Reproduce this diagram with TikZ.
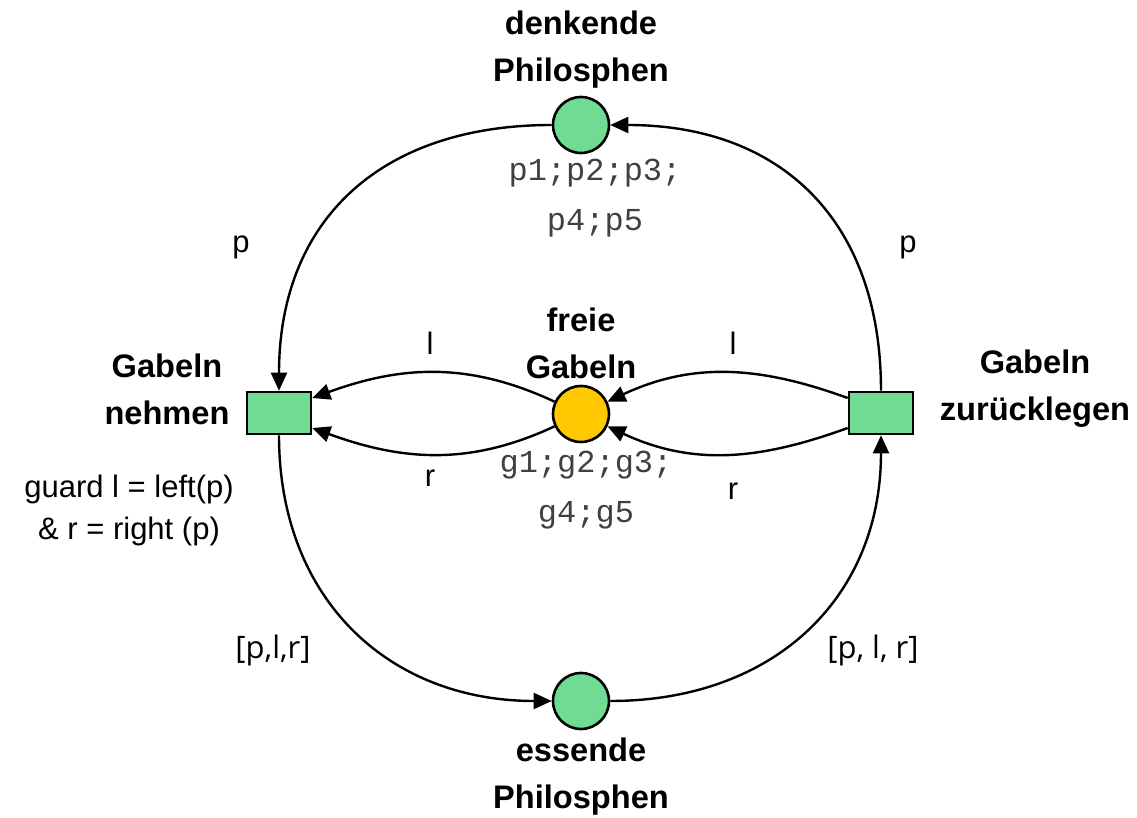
\documentclass[tikz,border=0pt]{standalone}
\usepackage{fontspec}
\setmainfont{Liberation Sans}
\setmonofont{Liberation Mono}
\newfontfamily\arcfont{Open Sans}
\usepackage{tikz}
\usetikzlibrary{arrows.meta, positioning}
\definecolor{placegreen}{HTML}{70DB93}
\definecolor{forkyellow}{HTML}{FFC800}

\begin{document}
\begin{tikzpicture}[x=0.5pt, y=0.5pt,
    place/.style={circle, draw, line width=1.3pt, minimum size=28pt, inner sep=0pt},
    trans/.style={rectangle, draw, line width=1.3pt, fill=placegreen, minimum width=32pt, minimum height=21pt, inner sep=0pt},
    arc/.style={line width=1.2pt, -{Triangle[length=9pt, width=8pt]}},
    title/.style={font=\fontsize{16.3}{23.5}\selectfont\bfseries, align=center},
    tokens/.style={font=\fontsize{16}{25}\selectfont\ttfamily, align=center, text=black!75},
    inscr/.style={font=\fontsize{15.5}{21}\selectfont, align=center},
    varlist/.style={font=\fontsize{15.5}{21}\selectfont\arcfont},
]
    \useasboundingbox (0,0) rectangle (1137,-818);

    % places
    \node[place, fill=placegreen] (dp) at (581,-125) {};
    \node[place, fill=forkyellow] (fg) at (581,-414) {};
    \node[place, fill=placegreen] (ep) at (581,-701) {};

    % transitions
    \node[trans] (gn) at (279,-413) {};
    \node[trans] (gz) at (881,-413) {};

    % names
    \node[title] (dpname) at (581,-50) {denkende\\Philosphen};
    \node[title] (fgname) at (581,-343) {freie\\Gabeln};
    \node[title] (epname) at (581,-777) {essende\\Philosphen};
    \node[title] (gnname) at (167,-389) {Gabeln\\nehmen};
    \node[title] (gzname) at (1035,-389) {Gabeln\\zurücklegen};

    % tokens
    \node[tokens] (dptok) at (595,-198) {p1;p2;p3;\\p4;p5};
    \node[tokens] (fgtok) at (586,-490) {g1;g2;g3;\\g4;g5};

    % guard
    \node[inscr] (guard) at (129,-510) {guard l = left(p)\\\& r = right (p)};

    % arcs
    \draw[arc] (dp.west) to[out=180, in=90, looseness=1.15] (gn.north);
    \draw[arc] (gz.north) to[out=90, in=0, looseness=1.15] (dp.east);
    \draw[arc] (gn.south) to[out=-90, in=180, looseness=1.1] (ep.west);
    \draw[arc] (ep.east) to[out=0, in=-90, looseness=1.1] (gz.south);

    \draw[arc] (fg.155) to[out=155, in=20] ([yshift=7.5pt]gn.east);
    \draw[arc] (fg.205) to[out=205, in=-20] ([yshift=-7.5pt]gn.east);
    \draw[arc] ([yshift=7.5pt]gz.west) to[out=160, in=25] (fg.25);
    \draw[arc] ([yshift=-7.5pt]gz.west) to[out=200, in=-25] (fg.-25);

    % arc inscriptions
    \node[inscr] (pleft) at (241,-247) {p};
    \node[inscr] (pright) at (908,-247) {p};
    \node[inscr] (lleft) at (430,-343) {l};
    \node[inscr] (lright) at (733,-343) {l};
    \node[inscr] (rleft) at (430,-478) {r};
    \node[inscr] (rright) at (733,-491) {r};
    \node[varlist] (plrleft) at (273,-650) {[p,l,r]};
    \node[varlist] (plrright) at (873,-650) {[p, l, r]};
\end{tikzpicture}
\end{document}
